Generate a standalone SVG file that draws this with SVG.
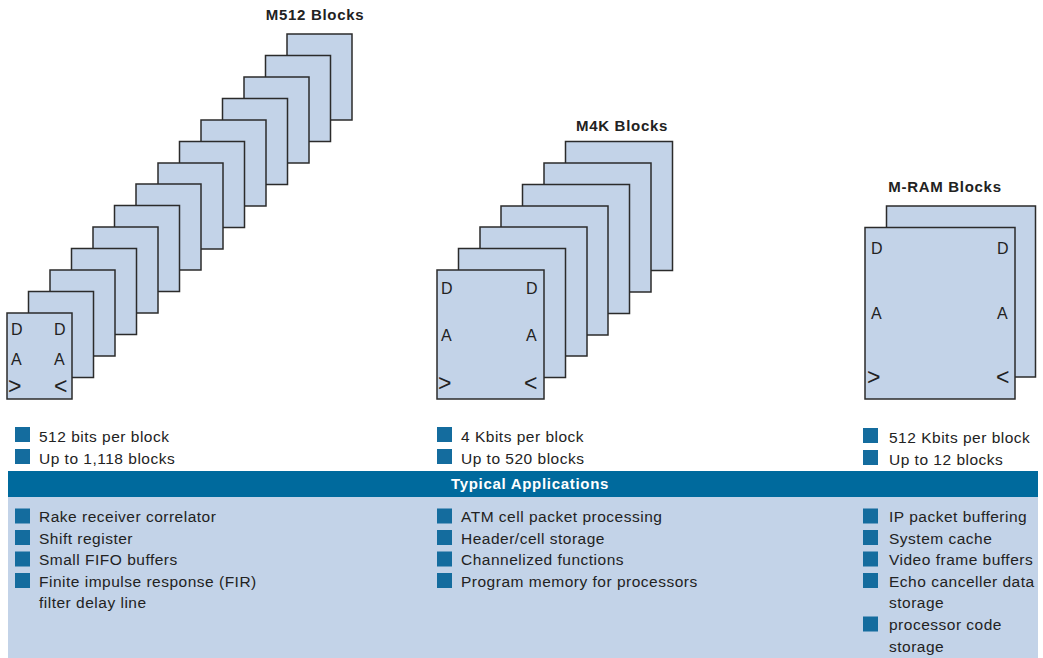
<svg xmlns="http://www.w3.org/2000/svg" width="1043" height="658" viewBox="0 0 1043 658">
<style>
.blk{fill:#c3d3e8;stroke:#2b2b2b;stroke-width:1.5}
.lt{font-family:"Liberation Sans",Arial,sans-serif;font-size:16px;fill:#222}
.ch{font-family:"Liberation Sans",Arial,sans-serif;font-size:23px;fill:#222}
.tt{font-family:"Liberation Sans",Arial,sans-serif;font-size:15px;font-weight:bold;fill:#222;text-anchor:middle;letter-spacing:0.7px}
.bt{font-family:"Liberation Sans",Arial,sans-serif;font-size:15.5px;fill:#222;letter-spacing:0.5px}
.sq{fill:#146c9e}
</style>
<defs>
<rect id="sq" class="sq" width="15" height="15"/>
</defs>
<rect x="0" y="0" width="1043" height="658" fill="#fff"/>

<g id="m512">
<text class="tt" x="315" y="20">M512 Blocks</text>
<rect class="blk" x="287" y="34" width="65" height="86"/>
<rect class="blk" x="265.5" y="55.5" width="65" height="86"/>
<rect class="blk" x="244" y="77" width="65" height="86"/>
<rect class="blk" x="222.5" y="98.5" width="65" height="86"/>
<rect class="blk" x="201" y="120" width="65" height="86"/>
<rect class="blk" x="179.5" y="141.5" width="65" height="86"/>
<rect class="blk" x="158" y="163" width="65" height="86"/>
<rect class="blk" x="136" y="184" width="65" height="86"/>
<rect class="blk" x="114.5" y="205.5" width="65" height="86"/>
<rect class="blk" x="93" y="227" width="65" height="86"/>
<rect class="blk" x="71.5" y="248.5" width="65" height="86"/>
<rect class="blk" x="50" y="270" width="65" height="86"/>
<rect class="blk" x="28.5" y="291.5" width="65" height="86"/>
<rect class="blk" x="7" y="313" width="65" height="86"/>
<text class="lt" x="11" y="335">D</text>
<text class="lt" x="54" y="335">D</text>
<text class="lt" x="11" y="365">A</text>
<text class="lt" x="54" y="365">A</text>
<text class="ch" x="8" y="394">&gt;</text>
<text class="ch" x="54" y="394">&lt;</text>
</g>

<g id="m4k">
<text class="tt" x="622" y="131">M4K Blocks</text>
<rect class="blk" x="565.5" y="141.5" width="107" height="129"/>
<rect class="blk" x="544" y="163" width="107" height="129"/>
<rect class="blk" x="522.5" y="184.5" width="107" height="129"/>
<rect class="blk" x="501" y="206" width="107" height="129"/>
<rect class="blk" x="480" y="227" width="107" height="129"/>
<rect class="blk" x="458.5" y="248.5" width="107" height="129"/>
<rect class="blk" x="437" y="270" width="107" height="129"/>
<text class="lt" x="441" y="294">D</text>
<text class="lt" x="526" y="294">D</text>
<text class="lt" x="441" y="341">A</text>
<text class="lt" x="526" y="341">A</text>
<text class="ch" x="438" y="391">&gt;</text>
<text class="ch" x="524" y="391">&lt;</text>
</g>

<g id="mram">
<text class="tt" x="945" y="192">M-RAM Blocks</text>
<rect class="blk" x="886.5" y="206" width="149" height="171"/>
<rect class="blk" x="865" y="227.5" width="150" height="171.5"/>
<text class="lt" x="871" y="254">D</text>
<text class="lt" x="997" y="254">D</text>
<text class="lt" x="871" y="319">A</text>
<text class="lt" x="997" y="319">A</text>
<text class="ch" x="867" y="384.5">&gt;</text>
<text class="ch" x="996" y="384.5">&lt;</text>
</g>

<g id="specs">
<use href="#sq" x="15" y="427"/><text class="bt" x="39" y="442">512 bits per block</text>
<use href="#sq" x="15" y="449"/><text class="bt" x="39" y="464">Up to 1,118 blocks</text>
<use href="#sq" x="437" y="427"/><text class="bt" x="461" y="442">4 Kbits per block</text>
<use href="#sq" x="437" y="449"/><text class="bt" x="461" y="464">Up to 520 blocks</text>
<use href="#sq" x="863" y="428"/><text class="bt" x="889" y="443">512 Kbits per block</text>
<use href="#sq" x="863" y="450"/><text class="bt" x="889" y="465">Up to 12 blocks</text>
</g>

<g id="applications">
<rect x="8" y="497" width="1030" height="161" fill="#c3d3e8"/>
<rect x="8" y="471" width="1030" height="26" fill="#006a9d"/>
<text class="tt" x="530" y="489" style="fill:#fff">Typical Applications</text>

<use href="#sq" x="15" y="508.5"/><text class="bt" x="39" y="522">Rake receiver correlator</text>
<use href="#sq" x="15" y="530"/><text class="bt" x="39" y="543.5">Shift register</text>
<use href="#sq" x="15" y="551.5"/><text class="bt" x="39" y="565">Small FIFO buffers</text>
<use href="#sq" x="15" y="573"/><text class="bt" x="39" y="586.5">Finite impulse response (FIR)</text>
<text class="bt" x="39" y="608">filter delay line</text>

<use href="#sq" x="437" y="508.5"/><text class="bt" x="461" y="522">ATM cell packet processing</text>
<use href="#sq" x="437" y="530"/><text class="bt" x="461" y="543.5">Header/cell storage</text>
<use href="#sq" x="437" y="551.5"/><text class="bt" x="461" y="565">Channelized functions</text>
<use href="#sq" x="437" y="573"/><text class="bt" x="461" y="586.5">Program memory for processors</text>

<use href="#sq" x="863" y="508.5"/><text class="bt" x="889" y="522">IP packet buffering</text>
<use href="#sq" x="863" y="530"/><text class="bt" x="889" y="543.5">System cache</text>
<use href="#sq" x="863" y="551.5"/><text class="bt" x="889" y="565">Video frame buffers</text>
<use href="#sq" x="863" y="573"/><text class="bt" x="889" y="586.5">Echo canceller data</text>
<text class="bt" x="889" y="608">storage</text>
<use href="#sq" x="863" y="616.5"/><text class="bt" x="889" y="630">processor code</text>
<text class="bt" x="889" y="651.5">storage</text>
</g>
</svg>
